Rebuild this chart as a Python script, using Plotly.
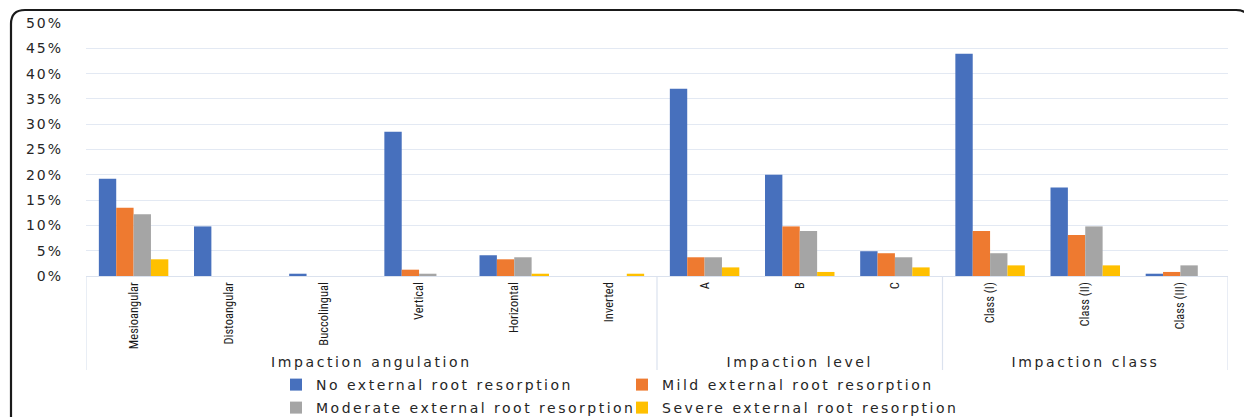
import plotly.graph_objects as go

# Impacted-tooth categories and the group each belongs to
categories = ["Mesioangular", "Distoangular", "Buccolingual", "Vertical", "Horizontal", "Inverted",
              "A", "B", "C", "Class (I)", "Class (II)", "Class (III)"]
groups = ["Impaction angulation"] * 6 + ["Impaction level"] * 3 + ["Impaction class"] * 3

# Share of teeth (%) in each external root resorption grade
no_resorption = [19.2, 9.8, 0.45, 28.5, 4.1, 0.0, 37.0, 20.0, 4.9, 43.9, 17.5, 0.45]
mild_resorption = [13.5, 0.0, 0.0, 1.25, 3.3, 0.0, 3.7, 9.8, 4.5, 8.9, 8.1, 0.8]
moderate_resorption = [12.2, 0.0, 0.0, 0.45, 3.7, 0.0, 3.7, 8.9, 3.7, 4.5, 9.8, 2.1]
severe_resorption = [3.3, 0.0, 0.0, 0.0, 0.45, 0.45, 1.7, 0.8, 1.7, 2.1, 2.1, 0.0]

series_names = ["No external root resorption", "Mild external root resorption",
                "Moderate external root resorption", "Severe external root resorption"]
series_values = [no_resorption, mild_resorption, moderate_resorption, severe_resorption]
series_colors = ["#4770bd", "#ee7a30", "#a5a5a5", "#ffc000"]
# two legend rows, two entries each
series_legend = ["legend", "legend", "legend2", "legend2"]

W, H = 1244, 417
L, R, T, B = 86, 16, 23, 141
pw, ph = W - L - R, H - T - B

def px_x(x):
    return (x - L) / pw

def px_y(y):
    return (H - B - y) / ph

fig = go.Figure()
for name, vals, col, lg in zip(series_names, series_values, series_colors, series_legend):
    fig.add_trace(go.Bar(
        x=categories, y=[v / 100 for v in vals], name=name, legend=lg,
        marker=dict(color=col, line=dict(width=0)),
    ))

# Group dividers below the axis and group titles
bounds = []
start = 0
for i in range(1, len(groups) + 1):
    if i == len(groups) or groups[i] != groups[start]:
        bounds.append((start, i - 1, groups[start]))
        start = i

shapes = []
annotations = []
edges = sorted({b[0] - 0.5 for b in bounds} | {b[1] + 0.5 for b in bounds})
for e in edges:
    shapes.append(dict(type="line", xref="x", yref="paper", x0=e, x1=e,
                       y0=0, y1=px_y(370), line=dict(color="#dbe2ee", width=1.2)))
for s, e, name in bounds:
    annotations.append(dict(x=(s + e) / 2, xref="x", y=px_y(362), yref="paper",
                            text=name, showarrow=False, yanchor="middle",
                            font=dict(family="DejaVu Sans", size=14, color="#262626")))

# Rounded outer frame
x0, y0, r = 11, 10, 14
x1, y1 = 1250, 440
frame = (f"M {px_x(x0)} {px_y(y1)} L {px_x(x0)} {px_y(y0 + r)} "
         f"Q {px_x(x0)} {px_y(y0)} {px_x(x0 + r)} {px_y(y0)} "
         f"L {px_x(x1 - r)} {px_y(y0)} Q {px_x(x1)} {px_y(y0)} {px_x(x1)} {px_y(y0 + r)}")
shapes.append(dict(type="path", xref="paper", yref="paper", path=frame,
                   line=dict(color="#1a1a1a", width=2.2)))

legend_style = dict(orientation="h", xanchor="left", yanchor="top",
                    entrywidth=301, entrywidthmode="pixels", tracegroupgap=0,
                    bgcolor="rgba(0,0,0,0)",
                    font=dict(family="DejaVu Sans", size=14, color="#262626"))

fig.update_layout(
    width=W, height=H,
    margin=dict(l=L, r=R, t=T, b=B, pad=0, autoexpand=False),
    paper_bgcolor="white", plot_bgcolor="white",
    barmode="group", bargap=0.27, bargroupgap=0,
    shapes=shapes, annotations=annotations,
    showlegend=True,
    legend=dict(x=px_x(276), y=px_y(369), **legend_style),
    legend2=dict(x=px_x(276), y=px_y(392), **legend_style),
    xaxis=dict(type="category", tickangle=-90, showgrid=False, ticks="", automargin=False,
               showline=True, linecolor="#dbe2ee", linewidth=1.2,
               tickfont=dict(family="Liberation Sans Narrow, Roboto Condensed, Liberation Sans",
                             size=12.5, color="#1a1a1a"),
               range=[-0.5, len(categories) - 0.5]),
    yaxis=dict(range=[0, 0.5], dtick=0.05, tickformat=".0%", automargin=False,
               showgrid=True, gridcolor="#e3e9f3", gridwidth=1.2,
               zeroline=False, showline=False, ticks="",
               tickfont=dict(family="DejaVu Sans", size=14, color="#262626"),
               ticklabelstandoff=22),
)

# Wider letter spacing for the legends, value-axis labels and group titles
spacing_js = """
var css = document.createElement('style');
css.textContent =
  'text.legendtext, g[class^="legend"] text, .infolayer text { letter-spacing: 2.5px !important; }' +
  '.ytick text { letter-spacing: 2px !important; }' +
  'text.annotation-text { letter-spacing: 2.6px !important; }';
document.head.appendChild(css);
"""

fig.write_html("out.html", post_script=spacing_js)
